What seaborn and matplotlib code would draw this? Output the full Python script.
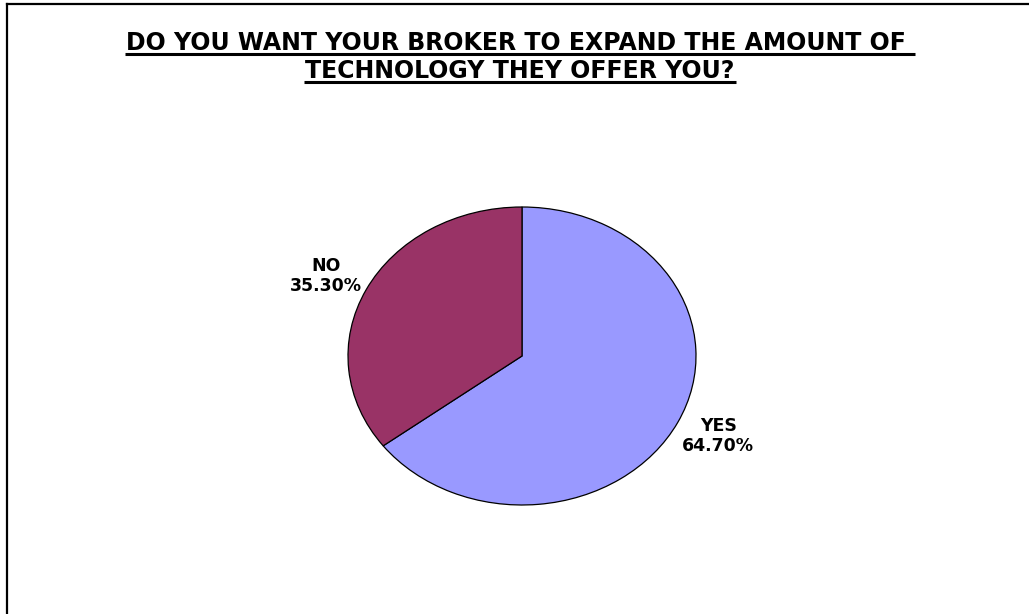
import matplotlib
matplotlib.use("Agg")
import matplotlib.pyplot as plt
from matplotlib.lines import Line2D
import seaborn as sns

# Survey answers and shares (percent)
answers = ["YES", "NO"]
shares = [64.70, 35.30]
slice_colors = ["#9999FF", "#993366"]
title_lines = [
    "DO YOU WANT YOUR BROKER TO EXPAND THE AMOUNT OF ",
    "TECHNOLOGY THEY OFFER YOU?",
]

sns.set_theme(style="white")
plt.rcParams["font.family"] = ["DejaVu Sans"]

W, H = 1029, 614
fig = plt.figure(figsize=(W / 100, H / 100), dpi=100)
fig.patch.set_facecolor("white")

# Pie drawn into a wider-than-tall box so it renders as an ellipse
ax = fig.add_axes([348 / W, (H - 505) / H, 348 / W, 298 / H])
wedges, texts = ax.pie(
    shares,
    labels=[f"{a}\n{s:.2f}%" for a, s in zip(answers, shares)],
    colors=slice_colors,
    startangle=90,
    counterclock=False,
    labeldistance=1.26,
    wedgeprops=dict(edgecolor="black", linewidth=0.9),
    textprops=dict(fontsize=12.5, fontweight="bold", color="black"),
)
for t in texts:
    t.set_ha("center")
    t.set_va("center")
    t.set_linespacing(1.15)
    # pull labels slightly toward the horizontal axis
    x, y = t.get_position()
    t.set_position((x, y * 1.2 / 1.26))
ax.set_aspect("auto")
ax.set_xlim(-1, 1)
ax.set_ylim(-1, 1)
ax.axis("off")

# Title, underlined line by line
title_texts = []
for i, line in enumerate(title_lines):
    y = 1 - (50 + i * 28.5) / H
    t = fig.text(0.5053, y, line, ha="center", va="baseline",
                 fontsize=17, fontweight="bold", color="black")
    title_texts.append(t)

fig.canvas.draw()
renderer = fig.canvas.get_renderer()
for t in title_texts:
    bb = t.get_window_extent(renderer)
    x0, x1 = (bb.x0 - 1) / W, (bb.x1 + 1) / W
    yb = t.get_position()[1] - 3.5 / H
    fig.add_artist(Line2D([x0, x1], [yb, yb], transform=fig.transFigure,
                          color="black", linewidth=2.2, solid_capstyle="butt"))

# Frame edges along the left and top of the chart area
fig.add_artist(Line2D([7 / W, 7 / W], [0, 1 - 4 / H], transform=fig.transFigure,
                      color="black", linewidth=1.6, solid_capstyle="projecting"))
fig.add_artist(Line2D([7 / W, 1], [1 - 4 / H, 1 - 4 / H], transform=fig.transFigure,
                      color="black", linewidth=1.6, solid_capstyle="projecting"))

fig.savefig("out.png", dpi=100, facecolor="white")
